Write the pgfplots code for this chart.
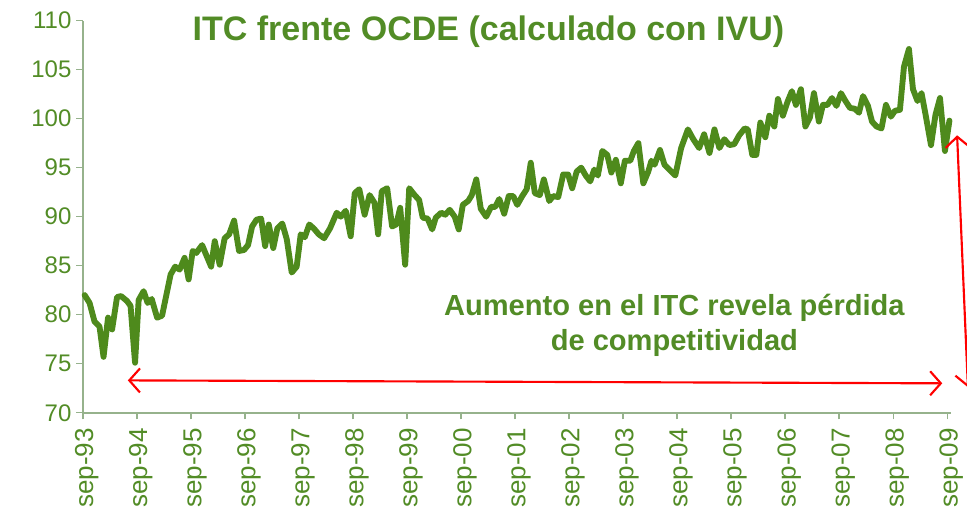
\documentclass[border=0pt]{standalone}
\usepackage{pgfplots}
\pgfplotsset{compat=1.18}
\usepackage{fontspec}
\setmainfont{Liberation Sans}
\usetikzlibrary{arrows.meta}
\definecolor{lgreen}{RGB}{78,138,28}
\definecolor{tgreen}{RGB}{82,140,38}
\definecolor{axgray}{RGB}{150,178,140}
\begin{document}
\begin{tikzpicture}
\begin{axis}[
  scale only axis,
  width=650.7pt, height=294pt,
  xmin=0, xmax=192.8, ymin=70, ymax=110,
  axis lines=left,
  axis line style={axgray, line width=1.4pt, -},
  xtick={0,12,...,192},
  xticklabels={sep-93,sep-94,sep-95,sep-96,sep-97,sep-98,sep-99,sep-00,sep-01,sep-02,sep-03,sep-04,sep-05,sep-06,sep-07,sep-08,sep-09},
  ytick={70,75,...,110},
  tick align=outside,
  major tick length=5pt,
  tick style={axgray, line width=1pt},
  x tick label style={rotate=90, anchor=east, font=\fontsize{19.5}{22}\selectfont, text=tgreen, xshift=-3pt, yshift=-3pt},
  y tick label style={font=\fontsize{18}{20}\selectfont, text=tgreen},
  /pgf/number format/assume math mode=true,
  clip=false,
]
\addplot[lgreen, line width=4.4pt, line join=round, line cap=round] coordinates {
(0.4,82.0) (1.5,81.2) (2.6,79.3) (3.7,78.8) (4.6,75.7) (5.6,79.7) (6.5,78.5) (7.6,81.8) (8.5,81.9) (9.8,81.4)
(10.6,80.9) (11.6,75.1) (12.4,81.5) (13.5,82.4) (14.4,81.2) (15.3,81.6) (16.5,79.7) (17.6,79.9) (19.5,84.1) (20.5,84.9)
(21.5,84.6) (22.6,85.8) (23.5,83.6) (24.4,86.5) (25.2,86.3) (26.5,87.1) (27.4,86.1) (28.5,84.9) (29.3,87.5) (30.4,85.1)
(31.5,87.8) (32.5,88.2) (33.6,89.6) (34.7,86.5) (35.8,86.6) (36.7,87.1) (37.6,89.0) (38.6,89.7) (39.6,89.8) (40.5,87.0)
(41.3,89.2) (42.3,86.8) (43.2,88.8) (44.3,89.3) (45.3,87.7) (46.4,84.3) (47.5,84.9) (48.4,88.2) (49.3,87.9) (50.3,89.2)
(51.3,88.8) (52.4,88.2) (53.6,87.8) (54.9,88.8) (56.4,90.4) (57.3,90.0) (58.4,90.6) (59.5,88.0) (60.4,92.4) (61.4,92.8)
(62.6,90.2) (63.7,92.2) (64.8,91.4) (65.6,88.2) (66.4,92.6) (67.6,92.9) (68.7,89.0) (69.6,89.2) (70.5,90.9) (71.6,85.1)
(72.5,92.9) (73.7,92.2) (74.7,91.7) (75.5,89.9) (76.6,89.8) (77.6,88.7) (78.4,89.9) (79.6,90.4) (80.5,90.2) (81.5,90.7)
(82.6,90.0) (83.5,88.7) (84.4,91.2) (85.6,91.6) (86.4,92.2) (87.4,93.8) (88.4,90.8) (89.6,90.0) (90.7,91.0) (91.6,91.0)
(92.5,91.8) (93.6,90.3) (94.6,92.1) (95.6,92.1) (96.5,91.2) (97.6,92.1) (98.6,92.8) (99.5,95.5) (100.4,92.4) (101.5,92.2)
(102.4,93.8) (103.6,91.6) (104.5,92.1) (105.6,92.0) (106.7,94.3) (107.8,94.3) (108.7,92.9) (109.7,94.6) (110.7,95.0) (111.7,94.2)
(112.7,93.6) (113.6,94.8) (114.4,94.2) (115.4,96.7) (116.5,96.3) (117.4,94.5) (118.4,95.8) (119.5,93.4) (120.4,95.7) (121.6,95.7)
(122.4,96.7) (123.4,97.5) (124.5,93.4) (125.6,94.6) (126.3,95.7) (127.0,95.3) (128.2,96.8) (129.2,95.3) (130.3,94.8) (131.6,94.2)
(132.9,97.0) (134.4,98.9) (135.6,97.9) (136.9,97.0) (138.0,98.4) (139.2,96.5) (140.3,98.9) (141.4,97.0) (142.5,97.9) (143.6,97.3)
(144.7,97.4) (145.8,98.3) (147.0,99.0) (147.7,98.9) (148.7,96.3) (149.6,96.3) (150.5,99.6) (151.6,98.1) (152.5,100.3) (153.6,99.2)
(154.4,102.0) (155.5,100.3) (156.6,101.8) (157.5,102.8) (158.4,101.4) (159.5,103.0) (160.5,99.2) (161.5,100.1) (162.4,102.6) (163.5,99.7)
(164.4,101.4) (165.4,101.4) (166.4,102.1) (167.4,101.3) (168.4,102.6) (169.4,101.8) (170.4,101.1) (171.5,101.0) (172.4,100.6) (173.3,102.3)
(174.4,101.3) (175.3,99.7) (176.3,99.2) (177.4,99.0) (178.4,101.4) (179.5,100.2) (180.4,100.8) (181.5,100.9) (182.4,105.3) (183.5,107.1)
(184.4,103.0) (185.4,101.8) (186.3,102.6) (187.2,100.4) (188.4,97.3) (189.4,100.4) (190.4,102.1) (191.5,96.7) (192.5,99.8)
};
\draw[red, line width=1.6pt, {Straight Barb[length=8pt,width=18pt]}-{Straight Barb[length=8pt,width=18pt]}]
  (axis cs:10,73.3) -- (axis cs:190.9,73.0);
\draw[red, line width=1.6pt, {Straight Barb[length=8pt,width=18pt]}-{Straight Barb[length=8pt,width=18pt]}]
  (axis cs:194.2,98.3) -- (axis cs:196.6,72.6);
\node[text=tgreen, font=\bfseries\fontsize{25.5}{30}\selectfont] at (axis cs:90.1,108.9) {ITC frente OCDE (calculado con IVU)};
\node[text=tgreen, align=center, font=\bfseries\fontsize{21.8}{26.2}\selectfont] at (axis cs:131.4,78.9) {Aumento en el ITC revela pérdida\\de competitividad};
\coordinate (bbl) at (axis cs:-18.4,59.4);
\coordinate (btr) at (axis cs:196.4,112.1);
\end{axis}
\pgfresetboundingbox
\path[use as bounding box] (bbl) rectangle (btr);
\end{tikzpicture}
\end{document}
